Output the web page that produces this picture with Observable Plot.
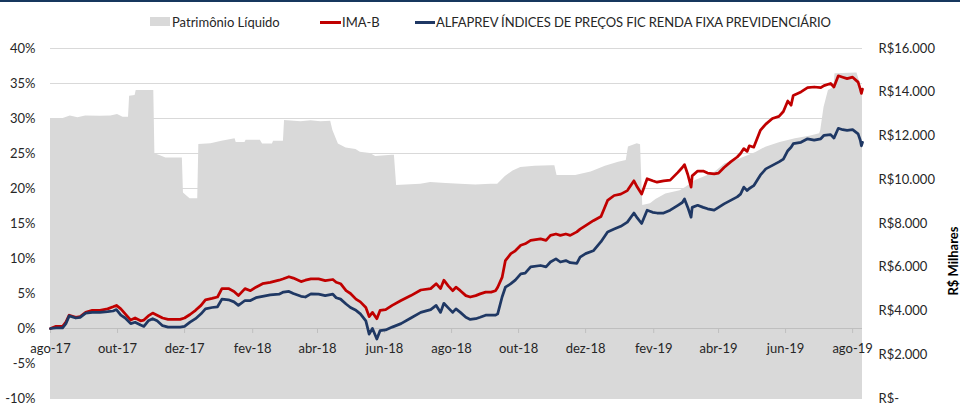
<!DOCTYPE html>
<html><head><meta charset="utf-8">
<script src="https://cdn.jsdelivr.net/npm/d3@7"></script>
<script src="https://cdn.jsdelivr.net/npm/@observablehq/plot@0.6"></script>
<style>
body{margin:0;background:#fff;font-family:Lato,sans-serif;color:#262626;overflow:hidden;}
#topbar{height:2px;background:#17375e;}
#legend{position:relative;height:34px;font-size:13px;}
#legend .sw{position:absolute;}
#legend .tx{position:absolute;top:12px;line-height:16px;white-space:nowrap;}
#chart svg{display:block;}
</style>
</head><body>
<div id="topbar"></div>
<div id="legend">
  <div class="sw" style="left:150px;top:15px;width:20px;height:9px;background:#d9d9d9"></div>
  <div class="tx" id="lg0" style="left:172px"></div>
  <div class="sw" style="left:320px;top:19px;width:21px;height:2.5px;background:#c00000"></div>
  <div class="tx" id="lg1" style="left:342px"></div>
  <div class="sw" style="left:415px;top:19px;width:20px;height:2.5px;background:#1f3864"></div>
  <div class="tx" id="lg2" style="left:436px;letter-spacing:-0.1px"></div>
</div>
<div id="chart"></div>
<script>
const SERIES_NAMES = ["Patrimônio Líquido", "IMA-B", "ALFAPREV ÍNDICES DE PREÇOS FIC RENDA FIXA PREVIDENCIÁRIO"];
const RIGHT_TITLE = "R$ Milhares";

const LEFT_TICKS = [-10, -5, 0, 5, 10, 15, 20, 25, 30, 35, 40];
const RIGHT_TICKS = [0, 2000, 4000, 6000, 8000, 10000, 12000, 14000, 16000];
const X_TICK_DATES = ["2017-08-01","2017-10-01","2017-12-01","2018-02-01","2018-04-01","2018-06-01","2018-08-01","2018-10-01","2018-12-01","2019-02-01","2019-04-01","2019-06-01","2019-08-01"];
const X_TICK_LABELS = ["ago-17","out-17","dez-17","fev-18","abr-18","jun-18","ago-18","out-18","dez-18","fev-19","abr-19","jun-19","ago-19"];
const X_DOMAIN = ["2017-08-01", "2019-08-10"];

const LINE_DATES = ["2017-08-01","2017-08-06","2017-08-12","2017-08-15","2017-08-18","2017-08-24","2017-08-28","2017-09-02","2017-09-08","2017-09-15","2017-09-22","2017-09-27","2017-09-30","2017-10-04","2017-10-08","2017-10-13","2017-10-17","2017-10-22","2017-10-25","2017-10-29","2017-11-02","2017-11-06","2017-11-11","2017-11-16","2017-11-23","2017-11-27","2017-12-01","2017-12-06","2017-12-11","2017-12-16","2017-12-20","2017-12-26","2017-12-31","2018-01-04","2018-01-10","2018-01-15","2018-01-19","2018-01-25","2018-01-30","2018-02-04","2018-02-10","2018-02-17","2018-02-25","2018-03-01","2018-03-06","2018-03-10","2018-03-17","2018-03-21","2018-03-26","2018-04-02","2018-04-08","2018-04-15","2018-04-18","2018-04-22","2018-04-27","2018-05-01","2018-05-06","2018-05-10","2018-05-15","2018-05-18","2018-05-21","2018-05-25","2018-05-28","2018-06-02","2018-06-08","2018-06-16","2018-06-25","2018-07-04","2018-07-13","2018-07-18","2018-07-22","2018-07-25","2018-07-29","2018-08-02","2018-08-05","2018-08-09","2018-08-14","2018-08-18","2018-08-23","2018-08-27","2018-09-01","2018-09-06","2018-09-10","2018-09-12","2018-09-16","2018-09-19","2018-09-24","2018-09-28","2018-10-03","2018-10-07","2018-10-12","2018-10-21","2018-10-26","2018-10-30","2018-11-04","2018-11-08","2018-11-13","2018-11-17","2018-11-23","2018-11-26","2018-12-01","2018-12-08","2018-12-15","2018-12-21","2018-12-27","2019-01-02","2019-01-08","2019-01-14","2019-01-17","2019-01-21","2019-01-26","2019-01-31","2019-02-04","2019-02-10","2019-02-16","2019-02-23","2019-02-27","2019-03-01","2019-03-04","2019-03-07","2019-03-08","2019-03-13","2019-03-18","2019-03-22","2019-03-28","2019-04-01","2019-04-06","2019-04-12","2019-04-18","2019-04-21","2019-04-24","2019-04-27","2019-04-29","2019-05-03","2019-05-09","2019-05-14","2019-05-20","2019-05-26","2019-05-30","2019-06-03","2019-06-06","2019-06-08","2019-06-15","2019-06-21","2019-06-27","2019-07-03","2019-07-06","2019-07-12","2019-07-15","2019-07-19","2019-07-23","2019-07-27","2019-08-01","2019-08-06","2019-08-08","2019-08-09","2019-08-10"];
const IMA_B = [0,0.3,0.3,0.9,1.9,1.6,1.7,2.3,2.6,2.6,2.8,3.1,3.3,2.8,2.1,1.2,1.5,1.1,1.2,1.8,2.2,1.9,1.5,1.3,1.3,1.3,1.5,2.0,2.6,3.3,4.1,4.3,4.5,5.7,5.7,5.3,4.7,5.7,5.4,5.9,6.4,6.6,6.9,7.1,7.4,7.2,6.7,6.9,7.1,7.1,6.85,7.0,6.6,6.4,5.4,5.0,4.2,3.8,3.0,1.7,2.3,1.4,2.6,2.7,3.3,4.0,4.7,5.5,5.7,6.4,5.7,6.9,6.1,5.4,5.9,5.4,4.7,4.5,4.7,4.95,5.2,5.2,5.4,5.9,7.3,9.7,10.7,11.1,11.9,12.1,12.6,12.8,12.6,13.3,13.5,13.3,13.5,13.3,13.8,14.2,14.7,15.4,16.0,18.3,19.0,19.2,19.7,21.1,20.2,19.2,21.4,21.1,20.9,21.1,21.2,22.3,23.0,23.4,22.0,20.2,21.8,22.5,22.5,22.2,22.1,22.2,23.0,23.8,24.5,25.0,25.7,25.3,26.1,25.9,28.3,29.2,30.0,30.3,31.0,32.5,31.9,33.3,33.8,34.4,34.5,34.4,34.7,35.0,34.5,36.1,35.9,35.7,35.9,35.2,34.2,33.6,34.2];
const FUND = [0,0.1,0.1,0.7,1.8,1.5,1.6,2.2,2.3,2.3,2.4,2.5,2.7,1.9,1.5,0.7,0.9,0.5,0.3,1.1,1.4,1.1,0.4,0.2,0.2,0.2,0.3,0.9,1.4,2.1,2.8,3.0,3.1,4.2,4.1,3.8,3.3,4.0,4.0,4.4,4.6,4.8,4.9,5.2,5.3,5.0,4.6,4.5,4.95,4.9,4.7,4.9,4.4,4.2,3.5,3.0,2.6,2.1,1.1,-0.8,0.0,-1.5,-0.3,-0.2,0.2,0.7,1.5,2.3,2.7,3.3,2.3,3.6,2.95,2.3,2.8,2.3,1.6,1.3,1.4,1.6,1.9,1.9,1.9,2.1,4.5,5.9,6.4,6.9,7.8,7.9,8.8,9.0,8.8,9.5,9.95,9.5,9.7,9.4,9.3,10.2,10.7,11.1,12.4,13.8,14.2,14.6,15.2,16.5,15.8,15.0,16.9,16.6,16.5,16.5,16.9,17.6,18.0,18.5,17.3,15.9,17.3,17.6,17.3,17.1,16.9,17.3,17.8,18.3,18.8,19.2,20.2,19.7,20.0,20.4,21.9,22.8,23.3,23.8,24.2,25.4,25.9,26.4,26.6,27.1,26.9,27.1,27.6,27.7,27.2,28.6,28.4,28.3,28.4,27.8,26.9,26.1,26.6];

const PL_DATES = ["2017-08-01","2017-08-10","2017-08-19","2017-08-26","2017-09-02","2017-09-15","2017-09-25","2017-10-01","2017-10-06","2017-10-11","2017-10-12","2017-10-17","2017-10-18","2017-11-03","2017-11-04","2017-11-09","2017-11-14","2017-11-29","2017-11-30","2017-12-06","2017-12-13","2017-12-14","2017-12-25","2018-01-04","2018-01-16","2018-01-17","2018-01-25","2018-01-26","2018-02-08","2018-02-10","2018-02-19","2018-02-20","2018-03-01","2018-03-02","2018-03-17","2018-03-26","2018-04-04","2018-04-13","2018-04-15","2018-04-20","2018-04-27","2018-05-06","2018-05-10","2018-05-19","2018-05-24","2018-06-08","2018-06-10","2018-06-12","2018-07-04","2018-07-13","2018-07-27","2018-08-09","2018-08-23","2018-09-06","2018-09-12","2018-09-19","2018-09-26","2018-10-03","2018-10-16","2018-10-31","2018-11-03","2018-11-05","2018-11-22","2018-12-06","2018-12-19","2018-12-31","2019-01-07","2019-01-09","2019-01-17","2019-01-20","2019-01-22","2019-01-29","2019-02-03","2019-02-12","2019-02-25","2019-03-02","2019-03-11","2019-03-20","2019-03-29","2019-04-07","2019-04-21","2019-05-05","2019-05-14","2019-05-27","2019-06-10","2019-06-24","2019-07-02","2019-07-03","2019-07-06","2019-07-10","2019-07-15","2019-07-16","2019-08-05","2019-08-07","2019-08-10"];
const PL_VALUES = [12750,12750,12920,12830,12920,12900,12920,12980,12860,12860,13820,13850,14080,14080,11190,11100,11000,11000,9400,9130,9130,11610,11650,11760,11870,11700,11700,11810,11810,11640,11640,11760,11760,12710,12650,12700,12650,12680,12250,11640,11450,11380,11260,11200,11060,11120,11120,9740,9800,9880,9830,9800,9760,9790,9800,10150,10400,10560,10620,10640,10640,10190,10190,10350,10620,10800,10880,11500,11650,11600,8820,8900,9100,9350,9500,9650,9970,10150,10350,10730,10960,11250,11490,11700,11870,12000,12100,12250,13300,14080,14220,14850,14880,14550,13950];

const COLORS = {pl: "#d9d9d9", imab: "#c00000", fund: "#1f3864", grid: "#d9d9d9", axis: "#bfbfbf"};

document.getElementById("lg0").textContent = SERIES_NAMES[0];
document.getElementById("lg1").textContent = SERIES_NAMES[1];
document.getElementById("lg2").textContent = SERIES_NAMES[2];

const parse = d3.utcParse("%Y-%m-%d");
const toLeft = d3.scaleLinear().domain([RIGHT_TICKS[0], RIGHT_TICKS[RIGHT_TICKS.length - 1]]).range([LEFT_TICKS[0], LEFT_TICKS[LEFT_TICKS.length - 1]]);
const ptBR = d3.formatLocale({decimal: ",", thousands: ".", grouping: [3], currency: ["R$", ""]});
const fmtR = v => v === 0 ? "R$-" : "R$" + ptBR.format(",")(v);

const pl = PL_DATES.map((d, i) => ({date: parse(d), v: toLeft(PL_VALUES[i]), base: toLeft(0)}));
const imab = LINE_DATES.map((d, i) => ({date: parse(d), v: IMA_B[i]}));
const fund = LINE_DATES.map((d, i) => ({date: parse(d), v: FUND[i]}));
const ticks = X_TICK_DATES.map(parse);
const AXIS_AT = 0;

const chart = Plot.plot({
  width: 960,
  height: 367,
  marginTop: 12,
  marginBottom: 5,
  marginLeft: 50,
  marginRight: 98,
  style: {fontFamily: "Lato, sans-serif", fontSize: "13px", color: "#262626", background: "white"},
  x: {type: "utc", domain: X_DOMAIN.map(parse), axis: null},
  y: {domain: [LEFT_TICKS[0], LEFT_TICKS[LEFT_TICKS.length - 1]], axis: null},
  marks: [
    Plot.ruleY(LEFT_TICKS, {stroke: COLORS.grid, strokeWidth: 1}),
    Plot.areaY(pl, {x: "date", y1: "base", y2: "v", fill: COLORS.pl, curve: "linear"}),
    Plot.ruleY([AXIS_AT], {stroke: COLORS.axis, strokeWidth: 1}),
    Plot.ruleX(ticks, {x: d => d, y1: AXIS_AT, y2: AXIS_AT, insetBottom: -5, stroke: COLORS.axis}),
    Plot.text(ticks, {x: d => d, y: AXIS_AT, dy: 20, text: (d, i) => X_TICK_LABELS[i], fontSize: 13, fill: "#262626"}),
    Plot.line(imab, {x: "date", y: "v", stroke: COLORS.imab, strokeWidth: 2.75, curve: "linear", strokeLinejoin: "round"}),
    Plot.line(fund, {x: "date", y: "v", stroke: COLORS.fund, strokeWidth: 2.75, curve: "linear", strokeLinejoin: "round"}),
    Plot.axisY(LEFT_TICKS, {anchor: "left", tickSize: 0, tickPadding: 15, tickFormat: d => d + "%", fontSize: 13, label: null}),
    Plot.axisY(RIGHT_TICKS.map(toLeft), {anchor: "right", tickSize: 0, tickPadding: 16, textAnchor: "start", tickFormat: d => fmtR(Math.round(toLeft.invert(d))), fontSize: 13, label: null}),
    Plot.text([RIGHT_TITLE], {frameAnchor: "right", dx: 91, dy: 3, rotate: -90, fontWeight: "bold", fontSize: 13, fill: "#000"})
  ]
});
document.getElementById("chart").appendChild(chart);
</script>
</body></html>
